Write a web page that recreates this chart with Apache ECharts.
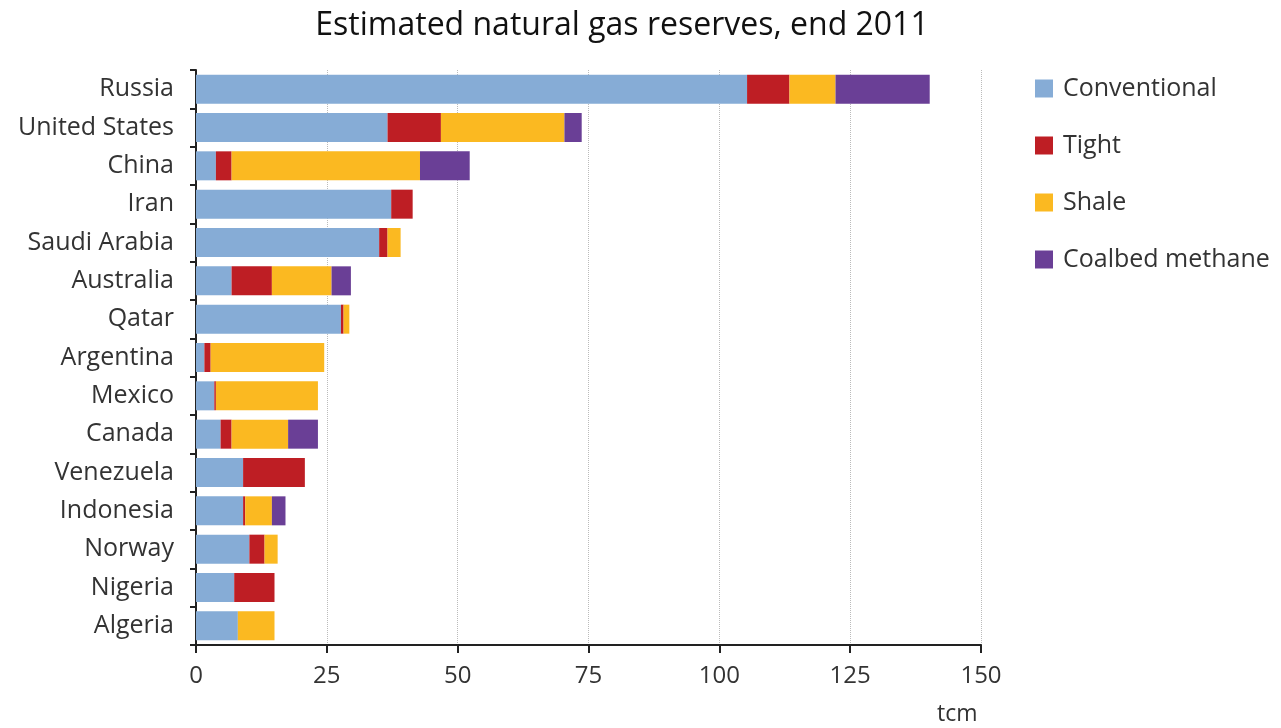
<!DOCTYPE html>
<html>
<head>
<meta charset="utf-8">
<script src="https://cdn.jsdelivr.net/npm/echarts@6/dist/echarts.min.js"></script>
<style>html,body{margin:0;padding:0;background:#fff}#c{width:1281px;height:728px}</style>
</head>
<body>
<div id="c"></div>
<script>
const countries = ["Russia","United States","China","Iran","Saudi Arabia","Australia","Qatar","Argentina","Mexico","Canada","Venezuela","Indonesia","Norway","Nigeria","Algeria"];
const conventional = [105.3,36.6,3.8,37.3,35.0,6.8,27.7,1.6,3.5,4.7,9.0,9.0,10.2,7.3,8.0];
const tight        = [8.1,10.2,3.0,4.1,1.6,7.7,0.5,1.2,0.3,2.1,11.8,0.4,2.9,7.7,0];
const shale        = [8.8,23.6,36.0,0,2.5,11.4,1.1,21.7,19.5,10.8,0,5.1,2.5,0,7.0];
const coalbed      = [18.0,3.3,9.5,0,0,3.7,0,0,0,5.7,0,2.6,0,0,0];
const seriesNames = ["Conventional","Tight","Shale","Coalbed methane"];
const xTicks = [0,25,50,75,100,125,150];

const font = "'Open Sans', Lato, sans-serif";
const colors = ["#86ACD6","#BE1E24","#FBB921","#6A3F96"];
const chart = echarts.init(document.getElementById('c'));
const mk = (name, data, i) => ({
  name, type: 'bar', stack: 'total', data, barWidth: 29,
  itemStyle: { color: colors[i] }
});
chart.setOption({
  animation: false,
  title: {
    text: "Estimated natural gas reserves, end 2011",
    left: 617, textAlign: 'center', top: 5,
    textStyle: { fontFamily: font, fontSize: 32, fontWeight: 'normal', color: '#111' }
  },
  legend: {
    orient: 'vertical', left: 1035, top: 76, padding: 0,
    itemWidth: 18, itemHeight: 18, itemGap: 32,
    icon: 'rect',
    textStyle: { fontFamily: font, fontSize: 25, color: '#333', lineHeight: 24, padding: [0,0,0,5] },
    data: seriesNames
  },
  grid: { left: 196, right: 300, top: 70, bottom: 83, containLabel: false },
  xAxis: {
    type: 'value', min: xTicks[0], max: xTicks[xTicks.length-1], interval: 25,
    axisLine: { show: true, lineStyle: { color: '#222', width: 2 } },
    axisTick: { show: true, length: 8, lineStyle: { color: '#222', width: 2 } },
    axisLabel: { fontFamily: font, fontSize: 24, color: '#333', margin: 19 },
    splitLine: { show: true, lineStyle: { color: '#bbb', type: 'dotted', width: 1 } }
  },
  yAxis: {
    type: 'category', data: countries, inverse: true,
    axisLine: { show: true, lineStyle: { color: '#222', width: 2 } },
    axisTick: { show: true, length: 6, lineStyle: { color: '#222', width: 2 } },
    axisLabel: { fontFamily: font, fontSize: 25, color: '#333', margin: 22, padding: [3,0,0,0] }
  },
  graphic: [{
    type: 'text', left: 937, top: 703,
    style: { text: 'tcm', fontFamily: font, fontSize: 23, fill: '#333' }
  }],
  series: [
    mk(seriesNames[0], conventional, 0),
    mk(seriesNames[1], tight, 1),
    mk(seriesNames[2], shale, 2),
    mk(seriesNames[3], coalbed, 3)
  ]
});
</script>
</body>
</html>
